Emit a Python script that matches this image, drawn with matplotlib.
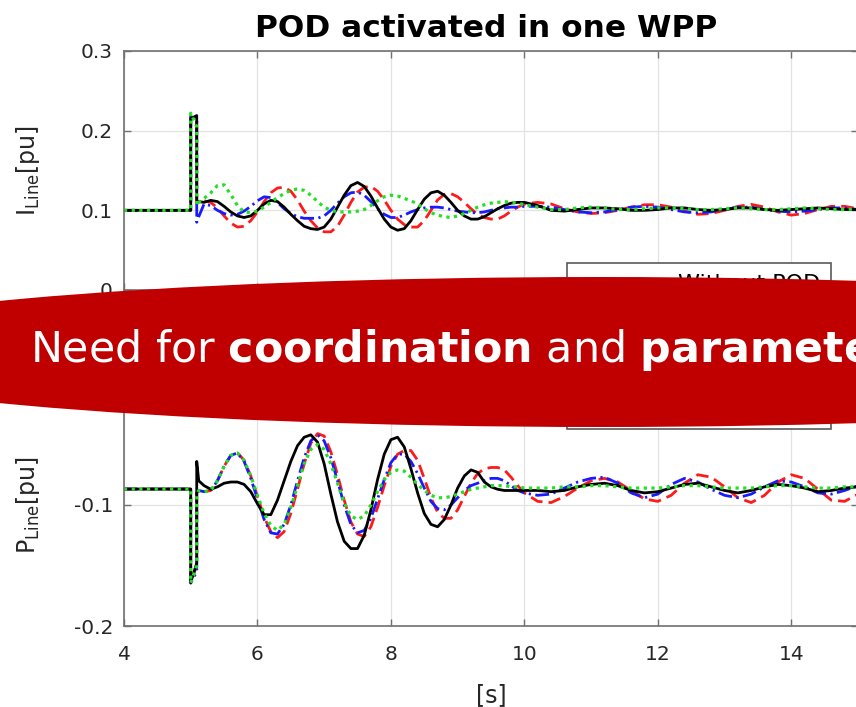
import numpy as np
import matplotlib
matplotlib.use("Agg")
import matplotlib.pyplot as plt
from matplotlib.patches import Ellipse

plt.rcParams["font.family"] = ["DejaVu Sans"]
plt.rcParams["mathtext.fontset"] = "dejavusans"

# time grid [s]: pre-fault, fault, then sampled response
t_fault = [4.0, 5.0, 5.0, 5.09, 5.09, 5.12]
t_mid = np.round(np.arange(5.2, 10.01, 0.1), 2)
t_late = np.round(np.arange(10.2, 15.01, 0.2), 2)
t = np.concatenate([t_fault, t_mid, t_late])

# line current [pu]
i_black = [0.100, 0.100, 0.215, 0.219, 0.112, 0.111,
           0.110, 0.1125, 0.111, 0.105, 0.098, 0.093, 0.091, 0.093, 0.100, 0.108,
           0.1125, 0.111, 0.104, 0.095, 0.087, 0.080, 0.077, 0.076, 0.079, 0.089,
           0.104, 0.119, 0.131, 0.135, 0.130, 0.118, 0.103, 0.089, 0.079, 0.075,
           0.077, 0.087, 0.101, 0.114, 0.122, 0.124, 0.119, 0.110, 0.100, 0.093,
           0.089, 0.089, 0.092, 0.097, 0.102, 0.106, 0.109, 0.110, 0.110,
           0.106, 0.100, 0.099, 0.101, 0.103, 0.103, 0.102, 0.100, 0.100, 0.101,
           0.103, 0.103, 0.101, 0.100, 0.101, 0.103, 0.103, 0.101, 0.100, 0.101,
           0.102, 0.103, 0.102, 0.101, 0.101]
i_red = [0.100, 0.100, 0.218, 0.212, 0.108, 0.112,
         0.112, 0.110, 0.103, 0.093, 0.084, 0.079, 0.080, 0.087, 0.098, 0.111,
         0.122, 0.128, 0.129, 0.124, 0.113, 0.099, 0.087, 0.078, 0.073, 0.073,
         0.080, 0.094, 0.110, 0.123, 0.129, 0.130, 0.124, 0.113, 0.100, 0.089,
         0.082, 0.079, 0.079, 0.087, 0.100, 0.113, 0.120, 0.121, 0.117, 0.110,
         0.102, 0.095, 0.091, 0.089, 0.089, 0.093, 0.099, 0.104, 0.108,
         0.110, 0.108, 0.102, 0.098, 0.096, 0.097, 0.100, 0.104, 0.107, 0.107,
         0.104, 0.099, 0.095, 0.096, 0.100, 0.105, 0.1075, 0.104, 0.098, 0.094,
         0.096, 0.101, 0.105, 0.105, 0.102]
i_blue = [0.100, 0.100, 0.218, 0.212, 0.085, 0.092,
          0.108, 0.106, 0.100, 0.096, 0.094, 0.095, 0.099, 0.105, 0.112, 0.117,
          0.116, 0.110, 0.102, 0.096, 0.092, 0.090, 0.090, 0.090, 0.093, 0.100,
          0.109, 0.117, 0.122, 0.123, 0.119, 0.111, 0.102, 0.095, 0.091, 0.091,
          0.094, 0.098, 0.101, 0.103, 0.104, 0.104, 0.103, 0.101, 0.099, 0.098,
          0.097, 0.097, 0.098, 0.100, 0.102, 0.103, 0.104, 0.104, 0.105,
          0.105, 0.104, 0.101, 0.098, 0.097, 0.098, 0.101, 0.104, 0.105, 0.104,
          0.101, 0.098, 0.097, 0.098, 0.101, 0.104, 0.104, 0.101, 0.099, 0.098,
          0.099, 0.101, 0.103, 0.103, 0.101]
i_green = [0.100, 0.100, 0.222, 0.205, 0.106, 0.110,
           0.115, 0.122, 0.131, 0.132, 0.120, 0.106, 0.098, 0.097, 0.099, 0.104,
           0.110, 0.116, 0.121, 0.125, 0.127, 0.125, 0.119, 0.111, 0.104, 0.100,
           0.098, 0.098, 0.098, 0.099, 0.101, 0.106, 0.112, 0.117, 0.119, 0.118,
           0.115, 0.112, 0.108, 0.102, 0.097, 0.094, 0.092, 0.091, 0.093, 0.096,
           0.100, 0.104, 0.107, 0.109, 0.110, 0.111, 0.110, 0.109, 0.107,
           0.104, 0.101, 0.101, 0.103, 0.104, 0.103, 0.101, 0.101, 0.102, 0.103,
           0.103, 0.102, 0.101, 0.101, 0.102, 0.103, 0.102, 0.101, 0.101, 0.102,
           0.103, 0.102, 0.101, 0.101, 0.102]

# line active power [pu]
p_black = [-0.0868, -0.0868, -0.164, -0.148, -0.064, -0.080,
           -0.084, -0.087, -0.085, -0.082, -0.081, -0.081, -0.083, -0.089, -0.099, -0.108,
           -0.108, -0.096, -0.080, -0.064, -0.051, -0.044, -0.042, -0.048, -0.066, -0.091,
           -0.114, -0.130, -0.136, -0.136, -0.125, -0.104, -0.079, -0.058, -0.046, -0.044,
           -0.052, -0.070, -0.090, -0.107, -0.116, -0.118, -0.112, -0.100, -0.086, -0.076,
           -0.071, -0.073, -0.081, -0.085, -0.087, -0.088, -0.088, -0.088, -0.088,
           -0.088, -0.089, -0.088, -0.085, -0.083, -0.082, -0.084, -0.088, -0.090, -0.089,
           -0.086, -0.083, -0.082, -0.085, -0.088, -0.090, -0.088, -0.085, -0.083, -0.084,
           -0.086, -0.089, -0.088, -0.086, -0.085]
p_red = [-0.0868, -0.0868, -0.1645, -0.150, -0.090, -0.087,
         -0.089, -0.088, -0.080, -0.068, -0.059, -0.057, -0.063, -0.076, -0.093, -0.110,
         -0.122, -0.127, -0.122, -0.107, -0.087, -0.066, -0.049, -0.041, -0.043, -0.056,
         -0.075, -0.096, -0.114, -0.124, -0.126, -0.118, -0.102, -0.084, -0.068, -0.058,
         -0.055, -0.055, -0.063, -0.078, -0.094, -0.106, -0.111, -0.111, -0.104, -0.093,
         -0.082, -0.074, -0.070, -0.069, -0.069, -0.071, -0.077, -0.084, -0.090,
         -0.097, -0.098, -0.093, -0.086, -0.080, -0.078, -0.081, -0.088, -0.095, -0.097,
         -0.092, -0.082, -0.075, -0.077, -0.085, -0.094, -0.098, -0.092, -0.081, -0.075,
         -0.078, -0.087, -0.096, -0.097, -0.091]
p_blue = [-0.0868, -0.0868, -0.1645, -0.155, -0.090, -0.088,
          -0.089, -0.088, -0.080, -0.068, -0.059, -0.057, -0.064, -0.078, -0.095, -0.112,
          -0.123, -0.124, -0.116, -0.100, -0.080, -0.061, -0.047, -0.042, -0.047, -0.061,
          -0.080, -0.100, -0.116, -0.123, -0.121, -0.111, -0.095, -0.079, -0.065, -0.058,
          -0.058, -0.064, -0.074, -0.086, -0.097, -0.103, -0.104, -0.100, -0.094, -0.088,
          -0.084, -0.082, -0.080, -0.078, -0.078, -0.080, -0.084, -0.088, -0.090,
          -0.092, -0.091, -0.086, -0.081, -0.078, -0.077, -0.082, -0.090, -0.094, -0.091,
          -0.083, -0.078, -0.081, -0.087, -0.092, -0.094, -0.091, -0.085, -0.080, -0.081,
          -0.085, -0.090, -0.091, -0.088, -0.084]
p_green = [-0.0868, -0.0868, -0.1645, -0.150, -0.092, -0.088,
           -0.089, -0.088, -0.080, -0.068, -0.059, -0.057, -0.063, -0.076, -0.092, -0.107,
           -0.117, -0.121, -0.116, -0.102, -0.084, -0.066, -0.054, -0.050, -0.054, -0.066,
           -0.082, -0.098, -0.109, -0.112, -0.109, -0.100, -0.089, -0.079, -0.073, -0.071,
           -0.072, -0.077, -0.083, -0.088, -0.092, -0.094, -0.094, -0.093, -0.091, -0.089,
           -0.087, -0.086, -0.085, -0.084, -0.084, -0.084, -0.085, -0.085, -0.086,
           -0.086, -0.086, -0.085, -0.085, -0.084, -0.084, -0.085, -0.086, -0.086, -0.086,
           -0.085, -0.084, -0.084, -0.085, -0.086, -0.086, -0.086, -0.085, -0.084, -0.084,
           -0.085, -0.086, -0.086, -0.085, -0.085]

legend_labels = ["Without POD", " ", " ", " "]
banner_text = r"Need for $\mathbf{coordination}$ and $\mathbf{parameter}$"

W, H = 856, 707
fig = plt.figure(figsize=(W / 100, H / 100), dpi=100)
ax1 = fig.add_axes([124 / W, 1 - 290 / H, 734 / W, 239 / H])
ax2 = fig.add_axes([124 / W, 1 - 626 / H, 734 / W, 242 / H])

styles = [
    dict(color="#ff1a1a", lw=2.0, dashes=(4.5, 2.2)),
    dict(color="#1a1aff", lw=2.0, dashes=(5.0, 1.6, 0.8, 1.6)),
    dict(color="black", lw=2.0, ls="-"),
    dict(color="#22e022", lw=2.3, dashes=(1.0, 1.4)),
]

handles = []
for ax, series in [(ax1, [i_red, i_blue, i_black, i_green]),
                   (ax2, [p_red, p_blue, p_black, p_green])]:
    lines = []
    for y, st in zip(series, styles):
        ln, = ax.plot(t, y, **st)
        lines.append(ln)
    handles = [lines[2], lines[0], lines[1], lines[3]]

    ax.set_xlim(4, 15)
    ax.set_xticks([4, 6, 8, 10, 12, 14])
    ax.grid(True, color="#e2e2e2", lw=0.9)
    ax.set_axisbelow(True)
    for s in ax.spines.values():
        s.set_color("#707070")
        s.set_linewidth(1.2)
    ax.tick_params(direction="in", length=5, width=1, color="#707070",
                   top=True, right=True, labelsize=14.5, labelcolor="#262626")
    ax.tick_params(axis="y", pad=8)
    ax.tick_params(axis="x", pad=14)
    ax.yaxis.set_major_formatter(plt.FuncFormatter(lambda v, p: "%g" % round(v, 3)))

ax1.set_ylim(0, 0.3)
ax1.set_yticks([0, 0.1, 0.2, 0.3])
ax1.tick_params(axis="x", labelbottom=False)
ax2.set_ylim(-0.2, 0)
ax2.set_yticks([-0.2, -0.1, 0])

ax1.set_title("POD activated in one WPP", fontsize=22.5, fontweight="bold",
              pad=10, x=0.493)
ax1.set_ylabel(r"I$_{\mathrm{Line}}$[pu]", fontsize=17, color="#262626")
ax2.set_ylabel(r"P$_{\mathrm{Line}}$[pu]", fontsize=17, color="#262626")
ax1.yaxis.set_label_coords(-0.112, 0.5)
ax2.yaxis.set_label_coords(-0.112, 0.5)
ax2.set_xlabel("[s]", fontsize=17, color="#262626")
ax2.xaxis.set_label_coords(0.5, -0.2355)

leg = fig.legend(handles, legend_labels, loc="upper left",
                 bbox_to_anchor=(567 / W, 1 - 263 / H), bbox_transform=fig.transFigure,
                 fontsize=16, fancybox=False, framealpha=1, edgecolor="#5a5a5a",
                 borderaxespad=0, borderpad=0.5, labelspacing=0.95,
                 handlelength=4.0, handletextpad=0.5)
leg.get_frame().set_linewidth(1.2)

banner = Ellipse((600 / W, 1 - 352 / H), 1640 / W, 150 / H, transform=fig.transFigure,
                 facecolor="#c00000", edgecolor="none", zorder=20)
fig.add_artist(banner)
fig.text(30 / W, 1 - 362 / H, banner_text, color="white", fontsize=30.8,
         va="baseline", ha="left", zorder=21)

fig.savefig("out.png", dpi=100)
